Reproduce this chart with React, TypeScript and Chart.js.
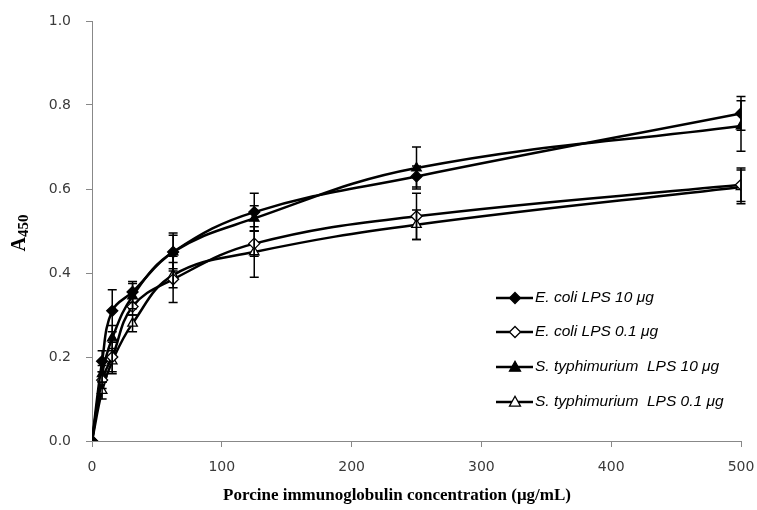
import { useEffect, useRef } from 'react';
import { Chart, registerables } from 'chart.js';
Chart.register(...registerables);

const concentrations = [0, 7.8, 15.6, 31.25, 62.5, 125, 250, 500];
const ecoli10 = [0, 0.19, 0.31, 0.355, 0.45, 0.545, 0.63, 0.78];
const ecoli10Err = [0, 0.025, 0.05, 0.025, 0.045, 0.045, 0.025, 0.04];
const ecoli01 = [0, 0.145, 0.2, 0.32, 0.385, 0.47, 0.535, 0.61];
const ecoli01Err = [0, 0.02, 0.035, 0.02, 0.055, 0.03, 0.055, 0.04];
const styph10 = [0, 0.16, 0.245, 0.345, 0.45, 0.53, 0.65, 0.75];
const styph10Err = [0, 0.02, 0.03, 0.03, 0.04, 0.03, 0.05, 0.06];
const styph01 = [0, 0.12, 0.19, 0.28, 0.395, 0.45, 0.515, 0.605];
const styph01Err = [0, 0.02, 0.03, 0.02, 0.03, 0.06, 0.035, 0.04];
const seriesLabels = [
  'E. coli LPS 10 μg',
  'E. coli LPS 0.1 μg',
  'S. typhimurium  LPS 10 μg',
  'S. typhimurium  LPS 0.1 μg',
];
const yTicks = [0, 0.2, 0.4, 0.6, 0.8, 1.0];
const xTicks = [0, 100, 200, 300, 400, 500];

function drawMarker(ctx: CanvasRenderingContext2D, style: string, filled: boolean, x: number, y: number, r: number) {
  ctx.save();
  ctx.beginPath();
  if (style === 'rectRot') {
    ctx.moveTo(x, y - r);
    ctx.lineTo(x + r, y);
    ctx.lineTo(x, y + r);
    ctx.lineTo(x - r, y);
  } else {
    ctx.moveTo(x, y - r * 1.05);
    ctx.lineTo(x + r, y + r * 0.75);
    ctx.lineTo(x - r, y + r * 0.75);
  }
  ctx.closePath();
  ctx.fillStyle = filled ? '#000' : '#fff';
  ctx.fill();
  ctx.lineWidth = 1.3;
  ctx.strokeStyle = '#000';
  ctx.stroke();
  ctx.restore();
}

const extrasPlugin = {
  id: 'extras',
  afterDatasetsDraw(chart: any) {
    const ctx = chart.ctx as CanvasRenderingContext2D;
    const ys = chart.scales.y;
    ctx.save();
    ctx.strokeStyle = '#000';
    ctx.lineWidth = 1.5;
    chart.data.datasets.forEach((ds: any, i: number) => {
      const meta = chart.getDatasetMeta(i);
      meta.data.forEach((pt: any, j: number) => {
        const e = ds.errors[j];
        if (!e) return;
        const v = ds.data[j].y;
        const y1 = ys.getPixelForValue(v + e);
        const y2 = ys.getPixelForValue(v - e);
        const x = pt.x;
        ctx.beginPath();
        ctx.moveTo(x, y1);
        ctx.lineTo(x, y2);
        ctx.moveTo(x - 4.5, y1);
        ctx.lineTo(x + 4.5, y1);
        ctx.moveTo(x - 4.5, y2);
        ctx.lineTo(x + 4.5, y2);
        ctx.stroke();
      });
    });
    ctx.restore();
  },
  afterDraw(chart: any) {
    const ctx = chart.ctx as CanvasRenderingContext2D;
    ctx.save();
    // legend
    const rows = [298, 332, 367, 402];
    chart.data.datasets.forEach((ds: any, i: number) => {
      const y = rows[i];
      ctx.strokeStyle = '#000';
      ctx.lineWidth = 2.5;
      ctx.beginPath();
      ctx.moveTo(496, y);
      ctx.lineTo(533, y);
      ctx.stroke();
      drawMarker(ctx, ds.pointStyle, ds.pointBackgroundColor === '#000', 515, y, 5.5);
      ctx.fillStyle = '#000';
      ctx.font = 'italic 15.5px "Liberation Sans"';
      ctx.textBaseline = 'middle';
      ctx.textAlign = 'left';
      ctx.fillText(ds.label, 535, y);
    });
    // axis titles
    ctx.fillStyle = '#000';
    ctx.font = 'bold 17px "Liberation Serif"';
    ctx.textAlign = 'center';
    ctx.textBaseline = 'middle';
    ctx.fillText('Porcine immunoglobulin concentration (μg/mL)', 397, 496);
    ctx.translate(20, 233);
    ctx.rotate(-Math.PI / 2);
    ctx.textAlign = 'left';
    ctx.font = 'bold 20px "Liberation Serif"';
    const aw = ctx.measureText('A').width;
    ctx.font = 'bold 15px "Liberation Serif"';
    const sw = ctx.measureText('450').width;
    const start = -(aw + sw) / 2;
    ctx.font = 'bold 20px "Liberation Serif"';
    ctx.fillText('A', start, 0);
    ctx.font = 'bold 15px "Liberation Serif"';
    ctx.fillText('450', start + aw, 4);
    ctx.restore();
  },
};

function makeDataset(label: string, vals: number[], errs: number[], style: string, filled: boolean) {
  return {
    label,
    data: concentrations.map((x, i) => ({ x, y: vals[i] })),
    errors: errs,
    borderColor: '#000',
    borderWidth: 2.5,
    pointStyle: style,
    pointRadius: 5.5,
    pointBackgroundColor: filled ? '#000' : '#fff',
    pointBorderColor: '#000',
    pointBorderWidth: 1.3,
    tension: 0.4,
    fill: false,
  };
}

export default function App() {
  const ref = useRef<HTMLCanvasElement>(null);
  useEffect(() => {
    const chart = new Chart(ref.current!, {
      type: 'line',
      data: {
        datasets: [
          makeDataset(seriesLabels[0], ecoli10, ecoli10Err, 'rectRot', true),
          makeDataset(seriesLabels[1], ecoli01, ecoli01Err, 'rectRot', false),
          makeDataset(seriesLabels[2], styph10, styph10Err, 'triangle', true),
          makeDataset(seriesLabels[3], styph01, styph01Err, 'triangle', false),
        ] as any,
      },
      options: {
        animation: false,
        responsive: false,
        layout: { padding: { top: 21, right: 16, left: 0, bottom: 0 } },
        plugins: { legend: { display: false }, tooltip: { enabled: false } },
        scales: {
          x: {
            type: 'linear',
            min: 0,
            max: 500,
            afterBuildTicks: (s: any) => { s.ticks = xTicks.map((v) => ({ value: v })); },
            afterFit: (s: any) => { s.height = 69; s.paddingLeft = 0; s.paddingRight = 0; },
            grid: { drawOnChartArea: false, drawTicks: true, tickLength: 6, color: '#888' },
            border: { color: '#888', width: 1 },
            ticks: { color: '#3a3a3a', padding: 12, font: { family: '"DejaVu Sans"', size: 14 } },
          },
          y: {
            min: 0,
            max: 1,
            afterBuildTicks: (s: any) => { s.ticks = yTicks.map((v) => ({ value: v })); },
            afterFit: (s: any) => { s.width = 92; s.paddingTop = 0; s.paddingBottom = 0; },
            grid: { drawOnChartArea: false, drawTicks: true, tickLength: 6, color: '#888' },
            border: { color: '#888', width: 1 },
            ticks: {
              color: '#3a3a3a',
              padding: 15,
              font: { family: '"DejaVu Sans"', size: 14 },
              callback: (v: any) => Number(v).toFixed(1),
            },
          },
        },
      },
      plugins: [extrasPlugin],
    });
    return () => chart.destroy();
  }, []);
  return (
    <div style={{ position: 'absolute', left: 0, top: 0, width: 757, height: 510, background: '#fff' }}>
      <canvas ref={ref} width={757} height={510} style={{ width: 757, height: 510 }} />
    </div>
  );
}
